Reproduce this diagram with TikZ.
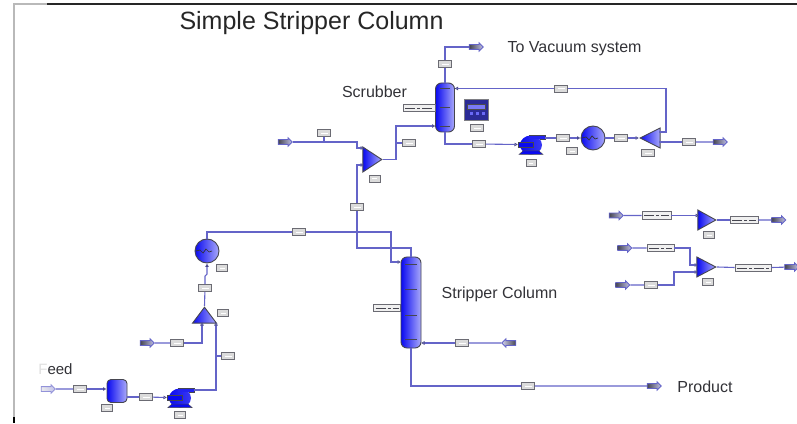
\documentclass[tikz,border=0pt]{standalone}
\usepackage{fontspec}
\setmainfont{Liberation Sans}
\usetikzlibrary{arrows.meta,shapes.geometric,shapes.arrows}
\definecolor{pipeblue}{RGB}{100,100,200}
\definecolor{unitblue}{RGB}{10,10,240}
\definecolor{unitpale}{RGB}{170,170,250}
\definecolor{edgegray}{RGB}{70,70,80}
\definecolor{textgray}{RGB}{50,50,55}
\tikzset{
    pipe/.style={draw=pipeblue,line width=1.1pt},
    pipein/.style={pipe,-{Latex[length=3.5pt,width=4pt,fill=white,color=pipeblue!70!black]}},
    unit/.style={draw=edgegray,line width=.9pt,left color=unitblue,middle color=unitblue,right color=unitpale,inner sep=0pt},
    column/.style={unit,rectangle,rounded corners=6pt,minimum width=#1},
    cooler/.style={unit,circle,minimum size=24pt},
    pumpbody/.style={unit,draw=none,ellipse,minimum width=22pt,minimum height=19pt,right color=unitblue!70!unitpale},
    mixer/.style={unit,isosceles triangle,isosceles triangle stretches,minimum width=20pt,minimum height=19pt},
    tag/.style={draw=edgegray!80,line width=.9pt,fill=gray!28,minimum width=13pt,minimum height=7pt,inner sep=0pt,
        path picture={\draw[white,line width=.8pt] ([xshift=3pt]path picture bounding box.west) -- ([xshift=-3pt]path picture bounding box.east);}},
    widetag/.style={draw=edgegray!80,line width=.9pt,fill=gray!12,minimum width=#1,minimum height=7.5pt,inner sep=0pt,
        path picture={\draw[edgegray,line width=.8pt,dash pattern=on 10pt off 2pt on 3pt off 2pt] ([xshift=2pt]path picture bounding box.west) -- ([xshift=-2pt]path picture bounding box.east);}},
    stream/.style={single arrow,draw=pipeblue,line width=.8pt,left color=edgegray,right color=pipeblue!40,minimum height=14pt,text height=4pt,text depth=0pt,inner sep=0pt,single arrow head extend=1.8pt},
    streamback/.style={stream,shape border rotate=180,left color=pipeblue!30,right color=edgegray},
    label/.style={text=textgray,font=\fontsize{16}{18}\selectfont,inner sep=0pt}
}
\newcommand{\pumpparts}[1]{
    \fill[unitblue!90!white] ([xshift=-2pt,yshift=10pt]#1.center) rectangle ([xshift=14pt,yshift=6pt]#1.center);
    \draw[edgegray,line width=.7pt] ([xshift=-2pt,yshift=10pt]#1.center) -- ([xshift=14pt,yshift=10pt]#1.center) -- ([xshift=14pt,yshift=6pt]#1.center) -- ([xshift=9pt,yshift=6pt]#1.center);
    \fill[unitblue,draw=edgegray,line width=.5pt] ([xshift=-8pt,yshift=-6pt]#1.center) -- ([xshift=8pt,yshift=-6pt]#1.center) -- ([xshift=12pt,yshift=-9.5pt]#1.center) -- ([xshift=-12pt,yshift=-9.5pt]#1.center) -- cycle;
    \draw[edgegray,fill=unitblue,line width=.8pt] ([xshift=-13pt,yshift=3pt]#1.center) rectangle ([xshift=2pt,yshift=-2pt]#1.center);
}
\begin{document}
\begin{tikzpicture}[x=1pt,y=1pt,node distance=20pt]
    \useasboundingbox (0,0) rectangle (797,423);
    \node[text=black!85,font=\fontsize{25}{28}\selectfont,inner sep=0pt] (title) at (311.5,400) {Simple Stripper Column};
    \coordinate (framea) at (14,419);
    \coordinate (frameb) at (47,419);
    \coordinate (framec) at (797,419);
    \coordinate (framed) at (14,6);
    \coordinate (framee) at (14,0);
    \draw[gray!55,line width=1.6pt] (frameb) -- (framea) -- (framed);
    \draw[black!85,line width=1.6pt] (frameb) -- (framec);
    \draw[black,line width=1.6pt] (framed) -- (framee);

    % stripper column and the line up to the mixer
    \node[column=20pt,minimum height=91pt] (strip) at (411,120.5) {};
    \node[tag] (t18) [right of=strip,node distance=117pt,yshift=-83.5pt] {};
    \node[stream] (product) [right of=t18,node distance=125pt] {};
    \node[label] (producttext) [right of=product,node distance=52pt,yshift=-1pt] {Product};
    \node[tag] (t19) [right of=strip,node distance=51pt,yshift=-40.5pt] {};
    \node[streamback] (returnin) [right of=t19,node distance=48pt] {};
    \node[label] (striptext) [right of=strip,node distance=88.5pt,yshift=8.5pt] {Stripper Column};
    \node[widetag=27pt] (stripside) [left of=strip,node distance=24pt,yshift=-5.5pt] {};
    \node[tag] (t9) [above of=strip,node distance=95.5pt,xshift=-54pt] {};
    \node[mixer,minimum width=25pt] (mix1) [right of=t9,node distance=26pt,yshift=47.5pt,anchor=apex] {};
    \node[tag,minimum width=11pt] (t20) [right of=t9,node distance=17.5pt,yshift=28.5pt] {};
    \node[tag] (t10) [left of=t9,node distance=33pt,yshift=74pt] {};
    \node[stream] (gasin) [left of=t10,node distance=40pt,yshift=-9pt] {};
    \node[tag] (t11) [right of=t9,node distance=52pt,yshift=64pt] {};

    % scrubber and its pump around loop
    \node[column=19pt,minimum height=49pt] (scrub) [right of=t11,node distance=36pt,yshift=35.5pt] {};
    \node[label] (scrubtext) [left of=scrub,node distance=70.5pt,yshift=15.5pt] {Scrubber};
    \node[tag] (t12) [above of=scrub,node distance=43.5pt] {};
    \node[stream] (vacuum) [right of=t12,node distance=30pt,yshift=17pt] {};
    \node[label] (vacuumtext) [right of=vacuum,node distance=99.5pt,yshift=-1.5pt] {To Vacuum system};
    \node[widetag=32pt] (scrubside) [left of=scrub,node distance=26pt,yshift=-.5pt] {};
    \node[draw=edgegray!70,line width=1pt,fill=unitblue!55!black!85,minimum width=24pt,minimum height=21pt,inner sep=0pt] (ctrl) [right of=scrub,node distance=31pt,yshift=-3pt] {};
    \node[draw=black!70,line width=.5pt,fill=unitpale!70!unitblue,minimum width=18pt,minimum height=5pt,inner sep=0pt] (ctrlscreen) [above of=ctrl,node distance=4pt] {};
    \foreach \key in {-6,0,6}
        \fill[unitpale!60!unitblue] ([xshift=\key pt,yshift=-5pt]ctrl.center) rectangle ++(3,3);
    \node[tag] (t21) [below of=ctrl,node distance=17.5pt,xshift=1pt] {};
    \node[tag] (t13) [right of=scrub,node distance=34pt,yshift=-36.5pt] {};
    \node[pumpbody] (pump2) [right of=t13,node distance=52pt,yshift=-1pt] {};
    \pumpparts{pump2}
    \node[tag,minimum width=10pt] (t22) [below of=pump2,node distance=18pt] {};
    \node[tag] (t14) [right of=pump2,node distance=32pt,yshift=7pt] {};
    \node[cooler] (cool2) [right of=t14,node distance=30pt] {};
    \node[tag,minimum width=11pt] (t23) [below of=cool2,node distance=13pt,xshift=-21pt] {};
    \node[tag] (t15) [right of=cool2,node distance=28pt] {};
    \node[mixer,minimum height=20pt,shape border rotate=180] (split) [right of=t15,node distance=18pt,anchor=apex] {};
    \node[tag] (t24) [below of=t15,node distance=15pt,xshift=27pt] {};
    \node[tag] (t17) [right of=t15,node distance=68pt,yshift=-4pt] {};
    \node[stream] (splitout) [right of=t17,node distance=30pt] {};
    \node[tag] (t16) [above of=t14,node distance=49.5pt,xshift=-2pt] {};

    % feed train
    \node[tag] (t8) [left of=t9,node distance=58pt,yshift=-25pt] {};
    \node[cooler] (cool1) [left of=t8,node distance=92pt,yshift=-19pt] {};
    \node[tag] (t7) [below of=cool1,node distance=37pt,xshift=-2pt] {};
    \node[tag,minimum width=11pt] (t25) [below of=cool1,node distance=17pt,xshift=15pt] {};
    \node[mixer,minimum width=24pt,minimum height=16pt,shape border rotate=90] (mix2) [below of=t7,node distance=18pt,xshift=-.5pt,anchor=apex] {};
    \node[tag,minimum width=11pt] (t26) [right of=t7,node distance=18pt,yshift=-25pt] {};
    \node[tag] (t6) [below of=t7,node distance=55pt,xshift=-28pt] {};
    \node[stream] (steamin) [left of=t6,node distance=31pt] {};
    \node[tag] (t5) [right of=t6,node distance=51pt,yshift=-13pt] {};
    \node[stream,draw=pipeblue!70,left color=gray!15,right color=pipeblue!40] (feed) at (47,34) {};
    \node[label,font=\fontsize{15}{17}\selectfont] (feedtext) [above of=feed,node distance=20pt,xshift=8.5pt] {{\color{gray!25}F}eed};
    \node[tag] (t1) [right of=feed,node distance=33pt] {};
    \node[column=20pt,rounded corners=4pt,minimum height=23pt] (drum) [right of=t1,node distance=37pt,yshift=-2pt] {};
    \node[tag,minimum width=11pt] (t2) [below of=drum,node distance=17pt,xshift=-10pt] {};
    \node[tag] (t3) [right of=drum,node distance=29pt,yshift=-6pt] {};
    \node[pumpbody] (pump1) [right of=t3,node distance=34pt,yshift=-1pt] {};
    \pumpparts{pump1}
    \node[tag,minimum width=11pt] (t4) [below of=pump1,node distance=17pt] {};

    % separate mixers on the right
    \node[stream] (r1) at (615,207.5) {};
    \node[widetag=29pt] (rt1) [right of=r1,node distance=41.5pt] {};
    \node[mixer,minimum height=18pt] (mix3) [right of=rt1,node distance=60.5pt,yshift=-4.5pt,anchor=apex] {};
    \node[tag,minimum width=11pt] (t27) [right of=rt1,node distance=52.5pt,yshift=-19.5pt] {};
    \node[widetag=28pt] (rt2) [right of=rt1,node distance=87.5pt,yshift=-4.5pt] {};
    \node[stream] (r1out) [right of=rt2,node distance=33.5pt] {};
    \node[stream] (r2) [below of=r1,node distance=32.5pt,xshift=8.5pt] {};
    \node[widetag=27pt] (rt3) [right of=r2,node distance=37pt] {};
    \node[mixer] (mix4) [right of=rt3,node distance=56.5pt,yshift=-19pt,anchor=apex] {};
    \node[tag,minimum width=11pt] (t28) [below of=rt3,node distance=34pt,xshift=47.5pt] {};
    \node[widetag=36pt] (rt4) [right of=rt3,node distance=92.5pt,yshift=-20pt] {};
    \node[stream] (r2out) [right of=rt4,node distance=37.5pt,yshift=1pt] {};
    \node[stream] (r3) [below of=r2,node distance=37pt,xshift=-2pt] {};
    \node[tag] (rt5) [right of=r3,node distance=29.5pt] {};

    % inlet and outlet points on the units
    \coordinate (mix1a) at ([xshift=-19pt,yshift=11.5pt]mix1.apex);
    \coordinate (mix1b) at ([xshift=-19pt,yshift=-5.5pt]mix1.apex);
    \coordinate (mix2l) at ([xshift=-2.5pt,yshift=-16pt]mix2.apex);
    \coordinate (mix2r) at ([xshift=11.5pt,yshift=-16pt]mix2.apex);
    \coordinate (mix3a) at ([xshift=-18pt,yshift=4.5pt]mix3.apex);
    \coordinate (mix4a) at ([xshift=-19pt,yshift=2pt]mix4.apex);
    \coordinate (mix4b) at ([xshift=-19pt,yshift=-5pt]mix4.apex);
    \coordinate (stripin) at ([xshift=-10pt,yshift=40.5pt]strip.center);
    \coordinate (stripret) at ([xshift=10pt,yshift=-40.5pt]strip.center);
    \coordinate (scrubin) at ([xshift=-9.5pt,yshift=-18.5pt]scrub.center);
    \coordinate (scrubret) at ([xshift=9.5pt,yshift=19pt]scrub.center);
    \coordinate (splita) at ([xshift=20pt,yshift=6pt]split.apex);
    \coordinate (splitb) at ([xshift=20pt,yshift=-4pt]split.apex);

    \draw[pipe] (feed) -- (t1);
    \draw[pipein] (t1) -- (drum.west |- t1);
    \draw[pipe] (drum.east |- t3) -- (t3);
    \draw[pipein] (t3) -- ([xshift=-13pt,yshift=.5pt]pump1.center);
    \draw[pipein] ([xshift=14pt,yshift=8pt]pump1.center) -| (mix2r);
    \draw[pipe] (t5) -- (t5 -| mix2r);
    \draw[pipe] (steamin) -- (t6);
    \draw[pipein] (t6) -| (mix2l);
    \draw[pipe] (mix2.apex) -- (t7);
    \draw[pipein] (t7.north) -- ++(0,8) -- ++(2,2) -- (cool1.south);
    \draw[pipe] (cool1.north) |- (t8);
    \draw[pipein] (t8) -| ([xshift=-10pt]stripin) -- (stripin);
    \draw[pipe] (t9) -- ++(0,-41) -| (strip.north);
    \draw[pipein] (t9) |- (mix1b);
    \draw[pipein] (gasin) -| ([xshift=-7pt]mix1a) -- (mix1a);
    \draw[pipe] (t10) -- (t10 |- gasin);
    \draw[pipein] (mix1.apex) -- ++(13,0) |- (scrubin);
    \draw[pipe] (t11) -- ++(-13,0);
    \draw[pipe] (scrub.north) -- (t12);
    \draw[pipe] (t12) |- (vacuum);
    \draw[pipe] (scrub.south) |- (t13);
    \draw[pipein] (t13) -- ([xshift=-13pt,yshift=.5pt]pump2.center);
    \draw[pipe] ([xshift=14pt,yshift=7pt]pump2.center) -- (t14);
    \draw[pipein] (t14) -- (cool2.west);
    \draw[pipe] (cool2.east) -- (t15);
    \draw[pipein] (t15) -- (split.apex);
    \draw[pipe] (splita) -- ++(7,0) |- (t16);
    \draw[pipein] (t16) -- (scrubret);
    \draw[pipe] (splitb) -- (t17);
    \draw[pipe] (t17) -- (splitout);
    \draw[pipe] (strip.south) |- (t18);
    \draw[pipe] (t18) -- (product);
    \draw[pipe] (returnin) -- (t19);
    \draw[pipein] (t19) -- (stripret);
    \draw[pipe] (r1) -- (rt1);
    \draw[pipein] (rt1) -- (mix3a);
    \draw[pipe] (mix3.apex) -- (rt2);
    \draw[pipe] (rt2) -- (r1out);
    \draw[pipe] (r2) -- (rt3);
    \draw[pipein] (rt3) -- ++(29.5,0) |- (mix4a);
    \draw[pipe] (mix4.apex) -- (rt4);
    \draw[pipe] (rt4) -- (r2out);
    \draw[pipe] (r3) -- (rt5);
    \draw[pipein] (rt5) -- ++(23,0) |- (mix4b);

    % trays
    \foreach \tray in {13,-13,-37,38}
        \draw[edgegray,line width=.7pt] ([xshift=-6pt,yshift=\tray pt]strip.center) -- ([xshift=6pt,yshift=\tray pt]strip.center);
    \foreach \tray in {0,-19,19}
        \draw[edgegray,line width=.7pt] ([xshift=-5pt,yshift=\tray pt]scrub.center) -- ([xshift=5pt,yshift=\tray pt]scrub.center);
    \foreach \cool in {cool1,cool2}
        \draw[black!80,line width=.7pt] ([xshift=-11pt]\cool.center) -- ++(4,1) -- ++(3,-3) -- ++(3,4) -- ++(3,-3) -- ++(3,1);
\end{tikzpicture}
\end{document}
